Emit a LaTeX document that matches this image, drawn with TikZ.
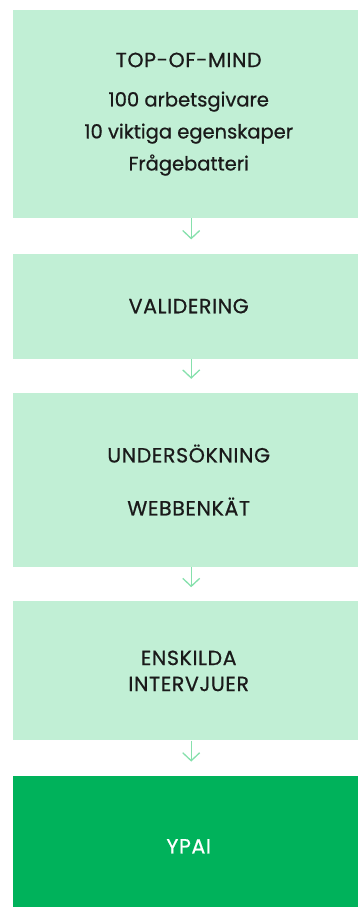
\documentclass[tikz,border=0pt]{standalone}
\usepackage{fontspec}
\setmainfont{Poppins}[FakeBold=0.7]
\newfontfamily\capsface{Poppins}[FakeBold=0.7,LetterSpace=3]
\usetikzlibrary{positioning,arrows.meta}
\definecolor{mintfill}{HTML}{C1EFD5}
\definecolor{ypaigreen}{HTML}{00B25B}
\definecolor{arrowgreen}{HTML}{86E0AC}
\definecolor{inktext}{HTML}{1A1A1A}
\tikzset{
  >={Straight Barb[length=8pt,width=17pt]},
  stagebox/.style={fill=mintfill, text=inktext, minimum width=351pt, inner sep=0pt,
    align=center, font=\capsface\fontsize{20.5}{26}\selectfont},
  finalbox/.style={stagebox, fill=ypaigreen, text=white},
  flow/.style={->, draw=arrowgreen, line width=1.3pt, shorten >=14pt}
}

\begin{document}
\begin{tikzpicture}
    \useasboundingbox (0,0) rectangle (357pt,-907pt);
    \node[stagebox, minimum height=208pt, anchor=north west, font=\fontsize{19.5}{32}\selectfont]
      (topmind) at (13pt,-10pt) {{\capsface\fontsize{20.5}{32}\selectfont TOP-OF-MIND}\\[7.3pt]100 arbetsgivare\\10 viktiga egenskaper\\Frågebatteri};
    \node[stagebox, minimum height=105pt, below=35pt of topmind] (validering) {VALIDERING};
    \node[stagebox, minimum height=174pt, below=34pt of validering] (undersokning) {UNDERSÖKNING\\[27pt]WEBBENKÄT};
    \node[stagebox, minimum height=139pt, below=34pt of undersokning] (intervjuer) {ENSKILDA\\INTERVJUER};
    \node[finalbox, minimum height=141pt, below=35pt of intervjuer] (ypai) {YPAI};
    \draw[flow] ([xshift=2.5pt]topmind.south) -- ([xshift=2.5pt]validering.north);
    \draw[flow] ([xshift=2.5pt]validering.south) -- ([xshift=2.5pt]undersokning.north);
    \draw[flow] ([xshift=2.5pt]undersokning.south) -- ([xshift=2.5pt]intervjuer.north);
    \draw[flow] ([xshift=2.5pt]intervjuer.south) -- ([xshift=2.5pt]ypai.north);
\end{tikzpicture}
\end{document}
